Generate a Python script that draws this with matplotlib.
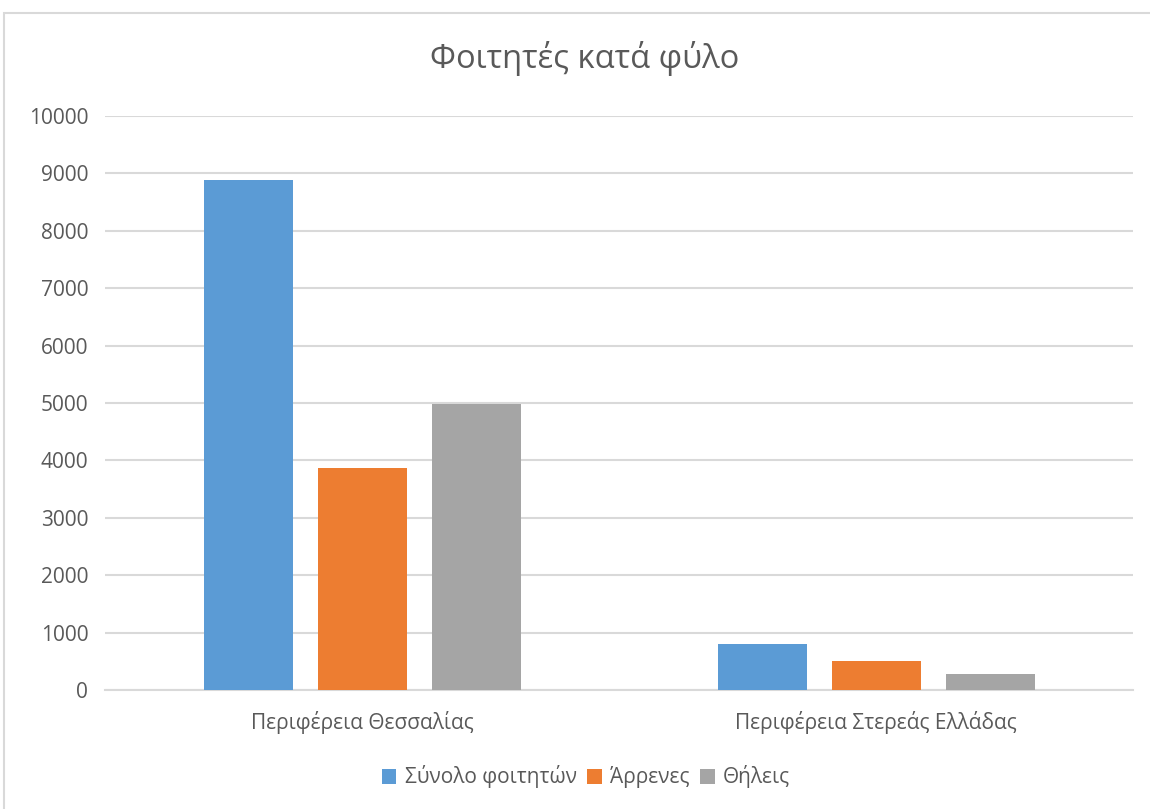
import matplotlib
matplotlib.use("Agg")
import matplotlib.pyplot as plt
from matplotlib.patches import Rectangle
import numpy as np

plt.rcParams['font.family'] = ['Open Sans', 'DejaVu Sans']

categories = ["Περιφέρεια Θεσσαλίας", "Περιφέρεια Στερεάς Ελλάδας"]
series_names = ["Σύνολο φοιτητών", "Άρρενες", "Θήλεις"]
total = [8880, 800]
male = [3870, 500]
female = [4990, 285]
colors = ["#5B9BD5", "#ED7D31", "#A5A5A5"]
yticks = list(range(0, 10001, 1000))

W, H = 1150, 809
fig = plt.figure(figsize=(W / 100, H / 100), dpi=100)
fig.patch.set_facecolor("white")

# chart-area frame (top and left edges visible)
fig.patches.append(Rectangle((4 / W, -0.1), 1.2, 1 - 13 / H + 0.1,
                             transform=fig.transFigure, fill=False,
                             edgecolor="#d9d9d9", linewidth=1.5))

left, right = 105 / W, 1133 / W
bottom, top = 1 - 690 / H, 1 - 116 / H
ax = fig.add_axes([left, bottom, right - left, top - bottom])

x = np.arange(len(categories))
bw = 89 / 514
step = 114 / 514
for i, (vals, name, col) in enumerate(zip([total, male, female], series_names, colors)):
    ax.bar(x + (i - 1) * step, vals, width=bw, color=col, label=name, zorder=3)

ax.set_xlim(-0.5, 1.5)
ax.set_ylim(0, 10000)
ax.set_yticks(yticks)
ax.set_yticklabels([str(t) for t in yticks])
ax.set_xticks(x)
ax.set_xticklabels(categories)
ax.yaxis.grid(True, color="#d9d9d9", linewidth=1.5, zorder=0)
ax.tick_params(axis="both", length=0, labelsize=15, labelcolor="#595959")
ax.tick_params(axis="y", pad=12)
ax.tick_params(axis="x", pad=15)
for s in ["top", "right", "left"]:
    ax.spines[s].set_visible(False)
ax.spines["bottom"].set_color("#d9d9d9")
ax.spines["bottom"].set_linewidth(1.5)

fig.text(585 / W, 1 - 58 / H, "Φοιτητές κατά φύλο", ha="center", va="center",
         fontsize=23.5, color="#595959")

fig.legend(loc="center", bbox_to_anchor=(586 / W, 1 - 777 / H), ncol=3,
           frameon=False, fontsize=15, labelcolor="#595959",
           handlelength=0.7, handleheight=0.7, handletextpad=0.4,
           columnspacing=0.5)

fig.savefig("out.png", dpi=100)
